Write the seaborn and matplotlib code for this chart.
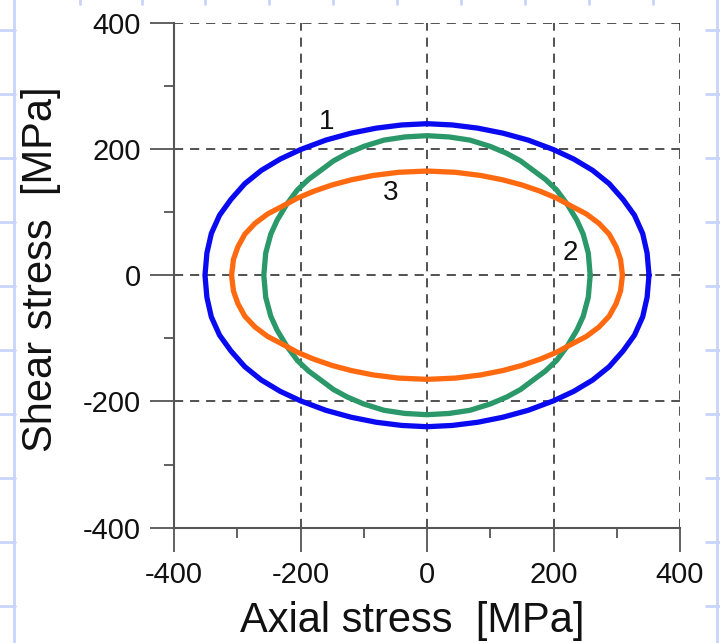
import numpy as np
import pandas as pd
import matplotlib
matplotlib.use("Agg")
import matplotlib.pyplot as plt
from matplotlib.lines import Line2D
from matplotlib.ticker import MultipleLocator
import seaborn as sns

# ---- data ----
# curve 1 (blue)
x1 = [351, 348, 341, 328, 310, 288, 262, 232, 200, 160, 120, 80, 40, 0,
      -40, -80, -120, -160, -200, -232, -262, -288, -310, -328, -341, -348, -351,
      -348, -341, -328, -310, -288, -262, -232, -200, -160, -120, -80, -40, 0,
      40, 80, 120, 160, 200, 232, 262, 288, 310, 328, 341, 348, 351]
y1 = [0, 35, 66, 95, 120, 145, 166, 184, 199, 214, 225, 233, 238, 240,
      238, 233, 225, 214, 199, 184, 166, 145, 120, 95, 66, 35, 0,
      -35, -66, -95, -120, -145, -166, -184, -199, -214, -225, -233, -238, -240,
      -238, -233, -225, -214, -199, -184, -166, -145, -120, -95, -66, -35, 0]

# curve 2 (green)
x2 = [258, 255, 247, 237, 222, 205, 187, 168, 148, 126, 100, 68, 35, 0,
      -35, -68, -100, -126, -148, -168, -187, -205, -222, -237, -247, -255, -258,
      -255, -247, -237, -222, -205, -187, -168, -148, -126, -100, -68, -35, 0,
      35, 68, 100, 126, 148, 168, 187, 205, 222, 237, 247, 255, 258]
y2 = [0, 35, 65, 87, 112, 135, 152, 166, 181, 193, 204, 214, 219, 221,
      219, 214, 204, 193, 181, 166, 152, 135, 112, 87, 65, 35, 0,
      -35, -65, -87, -112, -135, -152, -166, -181, -193, -204, -214, -219, -221,
      -219, -214, -204, -193, -181, -166, -152, -135, -112, -87, -65, -35, 0]

# curve 3 (orange)
x3 = [309, 306, 299, 288, 272, 252, 231, 205, 179, 150, 120, 85, 45, 0,
      -45, -85, -120, -150, -179, -205, -231, -252, -272, -288, -299, -306, -309,
      -306, -299, -288, -272, -252, -231, -205, -179, -150, -120, -85, -45, 0,
      45, 85, 120, 150, 179, 205, 231, 252, 272, 288, 299, 306, 309]
y3 = [0, 25, 45, 65, 82, 97, 108, 122, 133, 143, 151, 158, 163, 165,
      163, 158, 151, 143, 133, 122, 108, 97, 82, 65, 45, 25, 0,
      -25, -45, -65, -82, -97, -108, -122, -133, -143, -151, -158, -163, -165,
      -163, -158, -151, -143, -133, -122, -108, -97, -82, -65, -45, -25, 0]

curve_labels = ["1", "2", "3"]
label_x = [-158, 226, -58]
label_y = [242, 35, 131]

x_ticks = [-400, -200, 0, 200, 400]
y_ticks = [-400, -200, 0, 200, 400]

colors = ["#0a0af0", "#2a9868", "#ff6a10"]

# ---- figure ----
sns.set_theme(style="white")
plt.rcParams["font.family"] = ["Liberation Sans", "DejaVu Sans"]
plt.rcParams["axes.unicode_minus"] = False

W, H = 720, 643
fig = plt.figure(figsize=(W / 100, H / 100), dpi=100)
fig.patch.set_facecolor("white")

# faint slide-background decoration
deco = "#c8d4fa"
def fline(xs, ys):
    fig.add_artist(Line2D([x / W for x in xs], [1 - y / H for y in ys],
                          color=deco, lw=2, transform=fig.transFigure, zorder=0))
fline([14, 14], [0, H])
fline([717, 717], [0, H])
for yy in [30, 94, 158, 222, 286, 350, 414, 478, 542, 606]:
    fline([0, 15], [yy, yy])
    fline([706, 720], [yy, yy])
for xx in [80, 142, 205, 269, 333, 397, 461, 525, 589, 653]:
    fline([xx, xx], [0, 4])

ax = fig.add_axes([174 / W, 1 - 527.7 / H, (680 - 174) / W, (527.7 - 22.7) / H])
ax.set_facecolor("white")

dfs = [pd.DataFrame({"x": xs, "y": ys}) for xs, ys in [(x1, y1), (x2, y2), (x3, y3)]]
for df, c in zip(dfs, colors):
    sns.lineplot(data=df, x="x", y="y", sort=False, estimator=None, color=c,
                 lw=3.8, ax=ax, zorder=3)
for ln in ax.get_lines():
    ln.set_solid_joinstyle("round")

for t, lx, ly in zip(curve_labels, label_x, label_y):
    ax.text(lx, ly, t, fontsize=20, ha="center", va="center", color="#111111", zorder=4)

ax.set_xlim(-400, 400)
ax.set_ylim(-400, 400)
ax.set_xticks(x_ticks)
ax.set_yticks(y_ticks)
ax.xaxis.set_minor_locator(MultipleLocator(100))
ax.yaxis.set_minor_locator(MultipleLocator(100))

# dashed grid lines (including top and right borders)
for v in [-200, 0, 200, 400]:
    ax.axvline(v, color="#222222", lw=1.1, ls=(0, (6, 4.5)), zorder=1)
    ax.axhline(v, color="#222222", lw=1.1, ls=(0, (6, 4.5)), zorder=1)

for s in ["top", "right"]:
    ax.spines[s].set_visible(False)
for s in ["left", "bottom"]:
    ax.spines[s].set_color("#555555")
    ax.spines[s].set_linewidth(1.5)

ax.tick_params(axis="both", which="major", direction="out", length=17, width=1.3,
               color="#555555", labelsize=21, pad=7, labelcolor="#111111",
               bottom=True, left=True)
ax.tick_params(axis="both", which="minor", direction="out", length=7, width=1.3,
               color="#555555", bottom=True, left=True)

ax.set_xlabel("Axial stress  [MPa]", fontsize=30, color="#111111")
ax.set_ylabel("Shear stress  [MPa]", fontsize=30, color="#111111")
ax.xaxis.label.set_va("center")
ax.xaxis.label.set_ha("center")
ax.xaxis.set_label_coords(0.470, -0.185)
ax.yaxis.label.set_va("center")
ax.yaxis.label.set_ha("center")
ax.yaxis.set_label_coords(-0.262, 0.512)

fig.savefig("out.png", dpi=100, facecolor="white")
